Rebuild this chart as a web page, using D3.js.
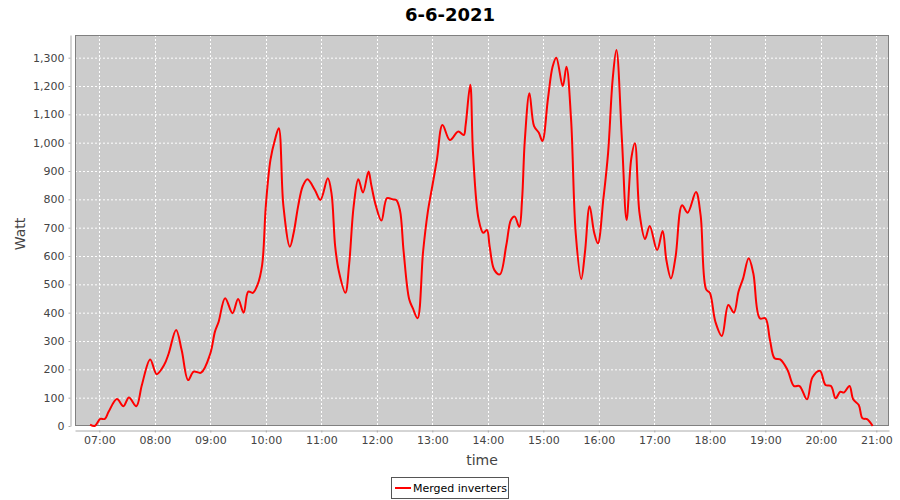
<!DOCTYPE html>
<html><head><meta charset="utf-8">
<script src="https://cdn.jsdelivr.net/npm/d3@7"></script>
<style>body{margin:0;background:#fff}svg{display:block}</style>
</head><body>
<svg id="chart" width="900" height="500"></svg>
<script>
const chartTitle = "6-6-2021";
const seriesName = "Merged inverters";
const xLabel = "time";
const yLabel = "Watt";
const times = ["06:50","06:55","07:01","07:06","07:10","07:19","07:26","07:32","07:40","07:46","07:55","08:02","08:10","08:15","08:23","08:29","08:36","08:42","08:50","09:00","09:05","09:09","09:16","09:24","09:30","09:36","09:41","09:46","09:51","09:56","10:00","10:05","10:10","10:14","10:19","10:26","10:30","10:35","10:40","10:45","10:53","10:59","11:07","11:11","11:15","11:19","11:26","11:30","11:35","11:40","11:45","11:51","11:54","11:59","12:05","12:11","12:17","12:21","12:25","12:29","12:35","12:39","12:44","12:50","12:55","13:00","13:05","13:11","13:19","13:28","13:34","13:36","13:41","13:44","13:50","13:55","13:59","14:02","14:07","14:13","14:20","14:25","14:29","14:34","14:37","14:40","14:45","14:50","14:55","14:59","15:05","15:10","15:14","15:21","15:25","15:30","15:35","15:41","15:45","15:50","15:55","15:59","16:05","16:10","16:15","16:19","16:25","16:30","16:35","16:39","16:44","16:50","16:55","17:03","17:09","17:13","17:18","17:23","17:30","17:36","17:45","17:50","17:56","18:00","18:06","18:13","18:20","18:26","18:31","18:36","18:42","18:47","18:54","19:00","19:05","19:10","19:16","19:24","19:31","19:37","19:45","19:51","19:59","20:05","20:11","20:16","20:21","20:25","20:31","20:35","20:41","20:45","20:50","20:56"];
const watts = [5,0,25,25,50,95,70,101,70,145,235,183,215,256,339,268,162,192,188,256,333,368,451,398,448,400,474,470,498,568,777,939,1012,1051,777,633,680,777,847,871,833,798,874,821,633,545,470,568,777,871,824,898,851,777,725,804,800,798,762,615,447,415,380,615,753,847,941,1062,1009,1039,1027,1062,1204,963,730,682,692,633,551,535,639,727,739,703,798,1009,1174,1058,1036,1006,1155,1268,1300,1199,1268,1082,681,519,613,776,682,645,804,963,1225,1327,1009,727,942,998,751,660,706,621,688,586,521,598,779,753,826,745,482,470,368,318,427,400,474,521,592,539,380,380,304,239,235,198,141,141,94,172,195,145,141,98,121,118,141,94,74,27,24,0];
const yTicks = [0,100,200,300,400,500,600,700,800,900,1000,1100,1200,1300];
const xTickLabels = ["07:00","08:00","09:00","10:00","11:00","12:00","13:00","14:00","15:00","16:00","17:00","18:00","19:00","20:00","21:00"];

const toDate = s => { const [h,m] = s.split(":").map(Number); return new Date(2021,5,6,h,m); };
const data = times.map((t,i) => ({t: toDate(t), v: watts[i]}));

const svg = d3.select("#chart");
const L = 75, R = 889, T = 35, B = 426;
const FONT = "'DejaVu Sans', sans-serif";

const x = d3.scaleTime()
  .domain([new Date(2021,5,6,6,33.7*1), new Date(2021,5,6,21,13.7)])
  .range([L, R]);
// fractional minutes
x.domain([new Date(2021,5,6,6,33,42), new Date(2021,5,6,21,13,42)]);
const y = d3.scaleLinear().domain([0, 1380]).range([B, T]);

// plot background
svg.append("rect").attr("x", L).attr("y", T).attr("width", R - L).attr("height", B - T)
  .attr("fill", "#cccccc");

const xTickDates = xTickLabels.map(toDate);

// gridlines
svg.append("g").selectAll("line").data(yTicks).join("line")
  .attr("x1", L).attr("x2", R).attr("y1", d => y(d) + 0.5).attr("y2", d => y(d) + 0.5)
  .attr("stroke", "#ffffff").attr("stroke-width", 1).attr("stroke-dasharray", "2,2");
svg.append("g").selectAll("line").data(xTickDates).join("line")
  .attr("x1", d => Math.round(x(d)) + 0.5).attr("x2", d => Math.round(x(d)) + 0.5).attr("y1", T).attr("y2", B)
  .attr("stroke", "#ffffff").attr("stroke-width", 1).attr("stroke-dasharray", "2,2");

// plot outline
svg.append("rect").attr("x", L + 0.5).attr("y", T + 0.5).attr("width", R - L - 1).attr("height", B - T - 1)
  .attr("fill", "none").attr("stroke", "#808080").attr("stroke-width", 1);

// Y axis
const yAxis = d3.axisLeft(y).tickValues(yTicks).tickFormat(d3.format(",")).tickSizeInner(2).tickSizeOuter(0).tickPadding(4);
const gy = svg.append("g").attr("transform", `translate(${L - 4.5},0)`).call(yAxis);
gy.select(".domain").attr("stroke", "#aaaaaa");
gy.selectAll(".tick line").attr("stroke", "#aaaaaa");
gy.selectAll("text").attr("font-family", FONT).attr("font-size", 11).attr("fill", "#444444");

// X axis
const xAxis = d3.axisBottom(x).tickValues(xTickDates).tickFormat((d,i) => xTickLabels[i]).tickSizeInner(2).tickSizeOuter(0).tickPadding(4);
const gx = svg.append("g").attr("transform", `translate(0,${B + 4.5})`).call(xAxis);
gx.select(".domain").attr("stroke", "#aaaaaa");
gx.selectAll(".tick line").attr("stroke", "#aaaaaa");
gx.selectAll("text").attr("font-family", FONT).attr("font-size", 11).attr("fill", "#444444");

// line
const line = d3.line().x(d => x(d.t)).y(d => y(d.v)).curve(d3.curveCatmullRom.alpha(0.5));
svg.append("path").datum(data).attr("d", line)
  .attr("fill", "none").attr("stroke", "#ff0000").attr("stroke-width", 2).attr("stroke-linejoin", "round");

// title
svg.append("text").attr("x", 450).attr("y", 21).attr("text-anchor", "middle")
  .attr("font-family", FONT).attr("font-weight", "bold").attr("font-size", 18).attr("fill", "#000")
  .text(chartTitle);

// axis labels
svg.append("text").attr("x", 482).attr("y", 465).attr("text-anchor", "middle")
  .attr("font-family", FONT).attr("font-size", 14).attr("fill", "#444444").text(xLabel);
svg.append("text").attr("transform", "translate(25,234) rotate(-90)").attr("text-anchor", "middle")
  .attr("font-family", FONT).attr("font-size", 14).attr("fill", "#444444").text(yLabel);

// legend
const lg = svg.append("g");
lg.append("rect").attr("x", 391.5).attr("y", 477.5).attr("width", 117).attr("height", 21)
  .attr("fill", "#fff").attr("stroke", "#555555").attr("stroke-width", 1);
lg.append("line").attr("x1", 395).attr("x2", 411).attr("y1", 488).attr("y2", 488)
  .attr("stroke", "#ff0000").attr("stroke-width", 2);
lg.append("text").attr("x", 413).attr("y", 492).attr("font-family", FONT).attr("font-size", 11)
  .attr("fill", "#000").text(seriesName);
</script>
</body></html>
